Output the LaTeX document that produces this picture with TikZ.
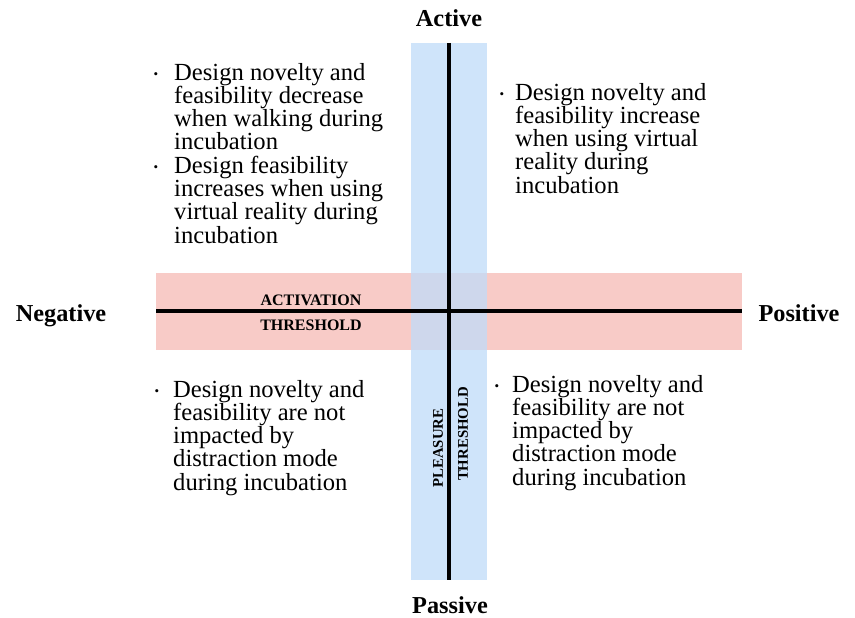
\documentclass[tikz,border=0pt]{standalone}
\usepackage{fontspec}
\setmainfont{Liberation Serif}
\definecolor{pinkband}{RGB}{248,203,199}
\definecolor{blueband}{RGB}{207,228,250}
\definecolor{overlap}{RGB}{206,215,236}
\begin{document}
\begin{tikzpicture}[x=1pt,y=-1pt,
  % item texts are placed by the baseline of their last line
  body/.style={anchor=base west, inner sep=0, align=left,
    font=\fontsize{24.6}{23.3}\selectfont},
  dot/.style={inner sep=0, font=\fontsize{13}{13}\selectfont},
  axislabel/.style={inner sep=0, anchor=base, font=\fontsize{24.3}{24}\selectfont\bfseries},
  bandlabel/.style={inner sep=0, anchor=base, font=\fontsize{16}{16}\selectfont\bfseries},
  sidelabel/.style={inner sep=0, rotate=90, font=\fontsize{14.8}{14.8}\selectfont\bfseries},
  axis/.style={line width=3.5pt}
]
\useasboundingbox (0,0) rectangle (855,618);

% threshold bands
\fill[pinkband] (156,273) rectangle (742,350);
\fill[blueband] (411,43) rectangle (487,580);
\fill[overlap] (411,273) rectangle (487,350);

% axes
\coordinate (top) at (449,43);
\coordinate (bottom) at (449,580);
\coordinate (left) at (156,311);
\coordinate (right) at (742,311);
\draw[axis] (top) -- (bottom);
\draw[axis] (left) -- (right);

% axis end labels
\node[axislabel] (active) at (449,27) {Active};
\node[axislabel] (passive) at (450,613) {Passive};
\node[axislabel] (negative) at (61,321) {Negative};
\node[axislabel] (positive) at (799,321) {Positive};

% band labels
\node[bandlabel] (act1) at (311,305) {ACTIVATION};
\node[bandlabel] (act2) at (311,330) {THRESHOLD};
\node[sidelabel] (pl1) at (438,448) {PLEASURE};
\node[sidelabel] (pl2) at (463,434) {THRESHOLD};

% upper left quadrant
\node[dot] (tlb1) at (156,75.5) {\textbullet};
\node[body] (tl1) at (174,149.9) {Design novelty and\\feasibility decrease\\when walking during\\incubation};
\node[dot] (tlb2) at (156,168.5) {\textbullet};
\node[body] (tl2) at (174,243.2) {Design feasibility\\increases when using\\virtual reality during\\incubation};

% upper right quadrant
\node[dot] (trb) at (502,95.5) {\textbullet};
\node[body] (tr) at (515,193.2) {Design novelty and\\feasibility increase\\when using virtual\\reality during\\incubation};

% lower left quadrant
\node[dot] (blb) at (157,392.5) {\textbullet};
\node[body] (bl) at (173,490.2) {Design novelty and\\feasibility are not\\impacted by\\distraction mode\\during incubation};

% lower right quadrant
\node[dot] (brb) at (497,387.5) {\textbullet};
\node[body] (br) at (512,485.2) {Design novelty and\\feasibility are not\\impacted by\\distraction mode\\during incubation};
\end{tikzpicture}
\end{document}
